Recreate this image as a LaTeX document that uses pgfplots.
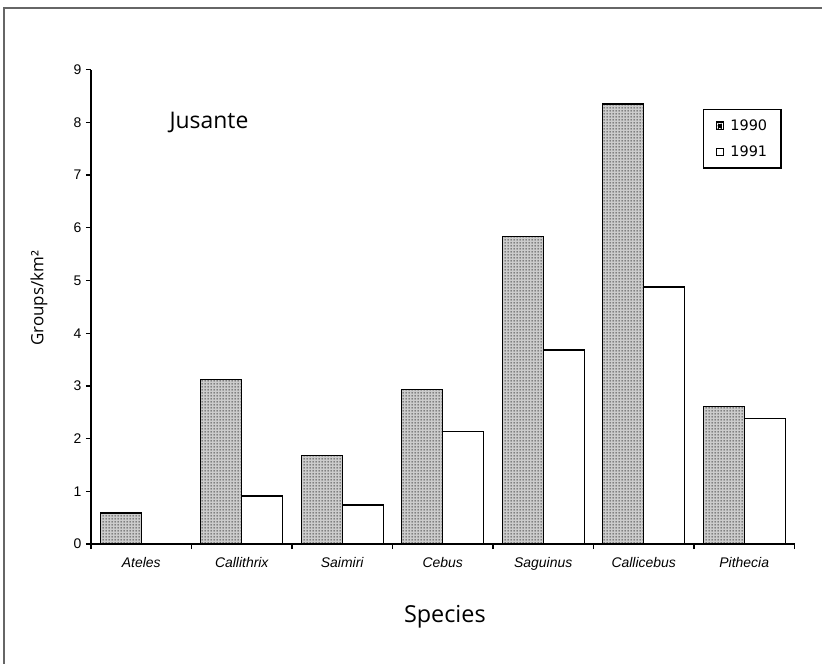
\documentclass[border=0pt]{standalone}
\usepackage{pgfplots}
\pgfplotsset{compat=1.18}
\usepackage{fontspec}
\setmainfont{Open Sans}
\newfontfamily\arial{Liberation Sans}
\newfontfamily\dejavu{DejaVu Sans}
\usetikzlibrary{patterns}
\pgfdeclarepatternformonly{fdots}{\pgfpointorigin}{\pgfpoint{3bp}{3bp}}{\pgfpoint{3bp}{3bp}}{\pgfpathrectangle{\pgfpoint{0.75bp}{0.75bp}}{\pgfpoint{1.5bp}{1.5bp}}\pgfusepath{fill}}

\begin{document}
\begin{tikzpicture}
\path[use as bounding box] (-91bp,-120bp) rectangle (731bp,544bp);
\draw[gray!80!black, line width=1.2bp] (-87bp,-120bp) -- (-87bp,536bp) -- (731bp,536bp);
\begin{axis}[
  at={(0,0)}, anchor=south west,
  scale only axis, width=703.5bp, height=474.3bp,
  clip=false,
  xmin=-0.5, xmax=6.5, ymin=0, ymax=9,
  axis x line*=bottom, axis y line*=left,
  axis line style={line width=1.4bp, -},
  ytick={0,...,9},
  xtick={0,...,6},
  xticklabels={Ateles,Callithrix,Saimiri,Cebus,Saguinus,Callicebus,Pithecia},
  major x tick style={draw=none},
  minor xtick={-0.5,0.5,...,6.5},
  minor x tick style={line width=1.3bp, black},
  ytick style={line width=1.3bp, black},
  tick align=outside,
  major tick length=5bp, minor tick length=5bp,
  ybar=0pt, bar width=41bp,
  /pgf/number format/assume math mode=true,
  yticklabel style={font=\arial\fontsize{14}{14}\selectfont, xshift=-1bp},
  xticklabel style={font=\arial\itshape\fontsize{14}{14}\selectfont, yshift=-5bp},
  legend style={at={(axis description cs:0.870,0.917)}, anchor=north west,
    draw=black, line width=1.3bp, font=\dejavu\fontsize{14.5}{14.5}\selectfont,
    inner xsep=12bp, inner ysep=8bp, row sep=10bp, cells={anchor=west},
    /tikz/every odd column/.append style={column sep=4bp}},
  legend cell align=left,
]
\addplot[draw=black, line width=1.4bp, fill=gray!40,
  postaction={pattern=fdots, pattern color=black!90},
  legend image code/.code={\draw[line width=1.1bp,fill=white] (0bp,-3.8bp) rectangle (7.6bp,3.8bp); \fill (2.8bp,-1bp) rectangle (4.8bp,1bp);}]
  coordinates {(0,0.59) (1,3.12) (2,1.68) (3,2.93) (4,5.84) (5,8.35) (6,2.61)};
\addlegendentry{1990}
\addplot[draw=black, line width=1.4bp, fill=white,
  legend image code/.code={\draw[line width=1.1bp,fill=white] (0bp,-3.8bp) rectangle (7.6bp,3.8bp);}]
  coordinates {(0,0) (1,0.91) (2,0.74) (3,2.13) (4,3.68) (5,4.88) (6,2.38)};
\addlegendentry{1991}
\node[font=\fontsize{23}{23}\selectfont] at (axis cs:0.674,7.99) {Jusante};
\node[font=\fontsize{17}{17}\selectfont, rotate=90] at (axis description cs:-0.074,0.518) {Groups/km²};
\node[font=\fontsize{23.5}{24}\selectfont] at (axis description cs:0.503,-0.154) {Species};
\end{axis}
\end{tikzpicture}
\end{document}
